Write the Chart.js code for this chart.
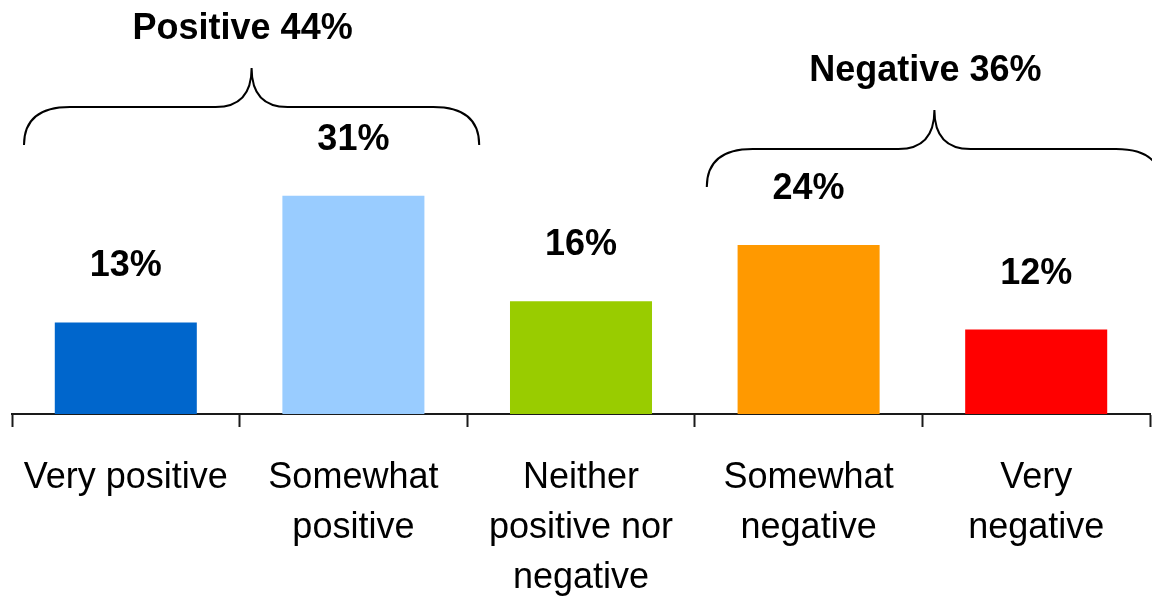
<!DOCTYPE html>
<html>
<head>
<meta charset="utf-8">
<script src="https://cdn.jsdelivr.net/npm/chart.js"></script>
<style>
  html, body { margin: 0; padding: 0; background: #fff; }
  #wrap { width: 1152px; height: 596px; position: relative; }
</style>
</head>
<body>
<div id="wrap"><canvas id="chart"></canvas></div>
<script>
// categories and values
const categories = [
  ['Very positive'],
  ['Somewhat', 'positive'],
  ['Neither', 'positive nor', 'negative'],
  ['Somewhat', 'negative'],
  ['Very', 'negative']
]
const shares = [13, 31, 16, 24, 12]
const barColors = ['#0066CC', '#99CCFF', '#99CC00', '#FF9900', '#FF0000']

// grouped totals shown over the braces
const groupLabels = ['Positive 44%', 'Negative 36%']
const groupFrom = [0, 3]
const groupTo = [1, 4]

const FONT = '"Liberation Sans", Arial, sans-serif'

// value labels above each bar
const valueLabels = {
  id: 'valueLabels',
  afterDatasetsDraw (chart) {
    const ctx = chart.ctx
    const meta = chart.getDatasetMeta(0)
    ctx.save()
    ctx.font = 'bold 36px ' + FONT
    ctx.fillStyle = '#000'
    ctx.textAlign = 'center'
    ctx.textBaseline = 'alphabetic'
    meta.data.forEach((bar, i) => {
      ctx.fillText(shares[i] + '%', bar.x, bar.y - 46)
    })
    ctx.restore()
  }
}

// curly braces with group totals
const braces = {
  id: 'braces',
  afterDraw (chart, args, opts) {
    const ctx = chart.ctx
    const x = chart.scales.x
    const half = (x.getPixelForValue(1) - x.getPixelForValue(0)) / 2
    ctx.save()
    ctx.strokeStyle = '#000'
    ctx.lineWidth = 2
    groupLabels.forEach((label, g) => {
      const x0 = x.getPixelForValue(groupFrom[g]) - half + opts.shift
      const x1 = x.getPixelForValue(groupTo[g]) + half + opts.shift
      const xm = (x0 + x1) / 2
      const yEnd = opts.ends[g]
      const yFlat = yEnd - 38
      const yTip = yFlat - 39
      const r = 46
      const r2 = 36
      ctx.beginPath()
      ctx.moveTo(x0, yEnd)
      ctx.quadraticCurveTo(x0, yFlat, x0 + r, yFlat)
      ctx.lineTo(xm - r2, yFlat)
      ctx.quadraticCurveTo(xm, yFlat, xm, yTip)
      ctx.quadraticCurveTo(xm, yFlat, xm + r2, yFlat)
      ctx.lineTo(x1 - r, yFlat)
      ctx.quadraticCurveTo(x1, yFlat, x1, yEnd)
      ctx.stroke()

      ctx.font = 'bold 36px ' + FONT
      ctx.fillStyle = '#000'
      ctx.textAlign = 'center'
      ctx.textBaseline = 'alphabetic'
      ctx.fillText(label, xm - 9, yTip - 29)
    })
    ctx.restore()
  }
}

new Chart(document.getElementById('chart'), {
  type: 'bar',
  data: {
    labels: categories,
    datasets: [{
      data: shares,
      backgroundColor: barColors,
      borderWidth: 0,
      categoryPercentage: 1,
      barPercentage: 0.624
    }]
  },
  options: {
    responsive: true,
    maintainAspectRatio: false,
    animation: false,
    layout: { padding: { top: 62, left: 12, right: 2, bottom: 0 } },
    plugins: {
      legend: { display: false },
      tooltip: { enabled: false },
      braces: { ends: [145, 187], shift: 12 }
    },
    scales: {
      x: {
        offset: true,
        border: { display: true, color: '#1a1a1a', width: 2 },
        grid: {
          offset: true,
          drawOnChartArea: false,
          drawTicks: true,
          tickLength: 13,
          tickWidth: 2,
          tickColor: '#1a1a1a'
        },
        ticks: {
          color: '#000',
          padding: 26,
          maxRotation: 0,
          autoSkip: false,
          font: { family: FONT, size: 36, lineHeight: '50px' }
        },
        afterFit (scale) {
          // fixed axis band; side padding comes from layout only
          scale.height = 182
          scale.paddingLeft = 0
          scale.paddingRight = 0
        }
      },
      y: {
        display: false,
        min: 0,
        max: 50
      }
    }
  },
  plugins: [valueLabels, braces]
})
</script>
</body>
</html>
